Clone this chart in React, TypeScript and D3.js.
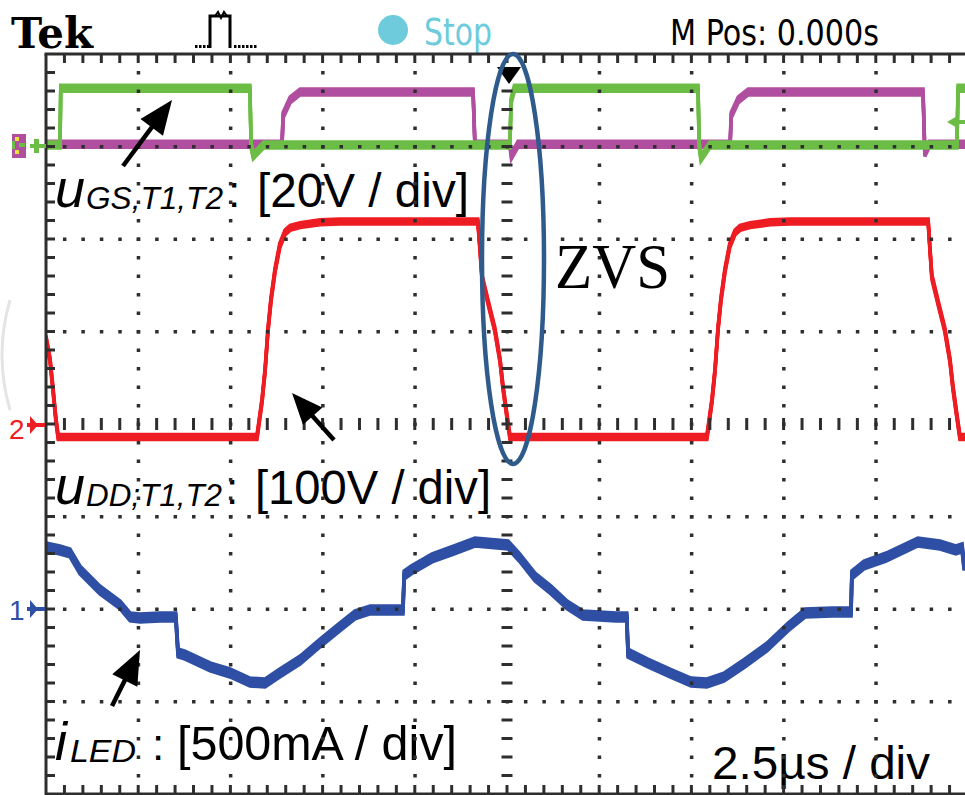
import React from "react";
import * as d3 from "d3";

// time in µs (2.5 µs/div), values in physical units
const gateT1: [number, number][] = [
  [0, 0.3], [0.38, 0.3], [0.4, 12.6], [5.53, 12.6], [5.56, 0.3], [5.62, -2], [5.9, 0.3],
  [12.58, 0.3], [12.61, 9.8], [12.7, 12.6], [17.68, 12.6], [17.71, 0.3], [17.76, -2.5],
  [18.0, 0.3], [24.7, 0.3], [24.73, 12.6], [25, 12.6],
];
const gateT2: [number, number][] = [
  [0, 0.5], [6.4, 0.5], [6.43, 6.8], [6.62, 10.1], [6.89, 11.8], [11.58, 11.8], [11.63, 0.5],
  [12.58, 0.5], [12.62, -2], [12.8, 0.5], [18.55, 0.5], [18.58, 6.8], [18.77, 10.1],
  [19.04, 11.8], [23.78, 11.8], [23.83, -1.5], [23.95, 0.5], [25, 0.5],
];
const drainV: [number, number][] = [
  [0, 93], [0.11, 69], [0.19, 37], [0.27, 4], [0.33, -14], [5.72, -14], [5.75, -6], [5.86, 26],
  [5.94, 58], [6.02, 102], [6.1, 134], [6.21, 166], [6.34, 193], [6.48, 207], [6.62, 212],
  [6.89, 215], [7.43, 218], [7.97, 219], [11.71, 219], [11.77, 188], [11.82, 159], [11.99, 131],
  [12.17, 102], [12.31, 69], [12.39, 40], [12.5, 8], [12.58, -14], [17.92, -14], [17.95, -6],
  [18.06, 26], [18.14, 58], [18.22, 102], [18.3, 134], [18.41, 166], [18.54, 193], [18.68, 207],
  [18.82, 212], [19.09, 215], [19.63, 218], [20.17, 219], [23.92, 219], [23.97, 188], [24.02, 159],
  [24.19, 131], [24.37, 102], [24.51, 69], [24.59, 40], [24.7, 8], [24.78, -14], [25, -14],
];
const iLED: [number, number][] = [
  [0, 335], [0.38, 319], [0.65, 303], [0.92, 211], [1.46, 103], [2.01, 22], [2.28, -43],
  [2.55, -49], [3.09, -43], [3.52, -43], [3.58, -238], [3.77, -249], [4.45, -313], [4.99, -346],
  [5.53, -395], [5.94, -400], [6.34, -346], [6.89, -276], [7.43, -184], [7.97, -97], [8.38, -32],
  [8.79, -5], [9.6, -5], [9.68, -5], [9.71, 184], [9.9, 211], [10.47, 276], [11.06, 319],
  [11.63, 362], [11.93, 357], [12.53, 346], [12.83, 281], [13.26, 173], [13.69, 103], [14.13, 22],
  [14.56, -32], [15.46, -43], [15.75, -43], [15.78, -238], [16.32, -292], [16.92, -346],
  [17.49, -395], [17.92, -400], [18.38, -368], [18.95, -292], [19.55, -205], [20.12, -97],
  [20.58, -22], [21.31, -16], [21.83, -16], [21.85, 184], [22.18, 238], [22.78, 281], [23.64, 362],
  [24.24, 346], [24.67, 319], [24.84, 330], [24.89, 238], [25, 238],
];

const labels = {
  gs: ["u", "GS,T1,T2", ":", "[20V / div]"],
  dd: ["u", "DD;T1,T2", ":", "[100V / div]"],
  led: ["i", "LED", ":", "[500mA / div]"],
};
const timeBase = "2.5µs / div";

const LEFT = 46, TOP = 54, DIVX = 92.2, DIVY = 92.5;
const RIGHT = LEFT + 10 * DIVX, BOTTOM = TOP + 8 * DIVY;

const x = d3.scaleLinear().domain([0, 25]).range([LEFT, RIGHT]);
const y = d3.scaleLinear().domain([-4, 4]).range([BOTTOM, TOP]);

const GRID = "#2e2e2e";
const GREEN = "#6cbd45", MAGENTA = "#b04ea0", RED = "#ee1c23", BLUE = "#2f4fa5";

function trace(data: [number, number][], offDiv: number, perDiv: number) {
  return d3.line<[number, number]>()
    .x((d) => x(d[0]))
    .y((d) => y(offDiv + d[1] / perDiv))(data) as string;
}

function Arrow({ tail, tip, L, Wd }: { tail: number[]; tip: number[]; L: number; Wd: number }) {
  const dx = tip[0] - tail[0], dy = tip[1] - tail[1];
  const len = Math.hypot(dx, dy);
  const ux = dx / len, uy = dy / len;
  const bx = tip[0] - ux * L, by = tip[1] - uy * L;
  const nx = -uy, ny = ux;
  const pts = [
    [tip[0], tip[1]],
    [bx + (nx * Wd) / 2, by + (ny * Wd) / 2],
    [bx - (nx * Wd) / 2, by - (ny * Wd) / 2],
  ];
  return (
    <g>
      <line x1={tail[0]} y1={tail[1]} x2={bx + ux * 4} y2={by + uy * 4} stroke="#000" strokeWidth={4.5} />
      <polygon points={pts.map((p) => p.join(",")).join(" ")} fill="#000" />
    </g>
  );
}

function Trace({ d, color, offs, sw }: { d: string; color: string; offs: number[]; sw: number }) {
  return (
    <g>
      {offs.map((o, i) => (
        <path key={i} d={d} transform={`translate(0,${o})`} fill="none" stroke={color} strokeWidth={sw} strokeLinejoin="miter" />
      ))}
    </g>
  );
}

function Label({ parts, yb, x0, subX, subLen, colonX, brX, brLen, italicSize }: any) {
  const f = "'Liberation Sans', Arial, sans-serif";
  return (
    <g fontFamily={f} fill="#000">
      <text x={x0} y={yb} fontSize={italicSize} fontStyle="italic">{parts[0]}</text>
      <text x={subX} y={yb + 2} fontSize={31} fontStyle="italic" textLength={subLen} lengthAdjust="spacingAndGlyphs">{parts[1]}</text>
      <text x={colonX} y={yb} fontSize={44}>{parts[2]}</text>
      <text x={brX} y={yb} fontSize={48} textLength={brLen} lengthAdjust="spacingAndGlyphs">{parts[3]}</text>
    </g>
  );
}

export default function App() {
  const minorX = d3.range(1, 50).map((k) => LEFT + (k * DIVX) / 5);
  const minorY = d3.range(1, 40).map((k) => TOP + (k * DIVY) / 5);
  const rows = [1, 2, 3, 5, 6, 7].map((j) => TOP + j * DIVY);
  const cols = [1, 2, 3, 4, 6, 7, 8, 9].map((i) => LEFT + i * DIVX);
  const cy = TOP + 4 * DIVY, cx = LEFT + 5 * DIVX;

  const narrow = "'Liberation Sans Narrow', 'DejaVu Sans Condensed', 'Liberation Sans', sans-serif";

  return (
    <svg width={965} height={795} style={{ position: "absolute", left: 0, top: 0, background: "#fff" }}>
      <rect width={965} height={795} fill="#fff" />
      {/* header */}
      <text x={11} y={48} fontFamily="'DejaVu Serif', serif" fontWeight="bold" fontSize={42} textLength={82} lengthAdjust="spacingAndGlyphs">Tek</text>
      <g fill="#000">
        {[195, 199, 203, 207].map((v) => <rect key={v} x={v} y={45} width={2.5} height={3} />)}
        {[234, 238, 242, 246, 250, 254].map((v) => <rect key={v} x={v} y={45} width={2.5} height={3} />)}
      </g>
      <path d="M210,48 V16 H230 V48" fill="none" stroke="#000" strokeWidth={3} />
      <path d="M215,16 L218,12 L221,18 L224,12 L227,16" fill="none" stroke="#000" strokeWidth={2} />
      <circle cx={393} cy={30} r={15} fill="#6dcbdc" />
      <text x={424} y={45} fontFamily={narrow} fontSize={37} fill="#6dcbdc" textLength={68} lengthAdjust="spacingAndGlyphs">Stop</text>
      <text x={670} y={45} fontFamily={narrow} fontSize={35} fill="#000" textLength={209} lengthAdjust="spacingAndGlyphs">M Pos: 0.000s</text>

      {/* faint arc at left edge */}
      <path d="M10,300 Q-6,355 10,410" fill="none" stroke="#e4e4e4" strokeWidth={3} />

      {/* traces */}
      <defs>
        <clipPath id="plot">
          <rect x={LEFT} y={TOP} width={RIGHT - LEFT} height={BOTTOM - TOP} />
        </clipPath>
      </defs>
      <g clipPath="url(#plot)">
        <Trace d={trace(gateT2, 3, 20)} color={MAGENTA} offs={[-3, -1, 1, 3]} sw={3.5} />
        <Trace d={trace(gateT1, 3, 20)} color={GREEN} offs={[-3, -1, 1, 3]} sw={3.5} />
        <Trace d={trace(drainV, 0, 100)} color={RED} offs={[-2.5, -0.8, 0.8, 2.5]} sw={3.5} />
        <Trace d={trace(iLED, -2, 500)} color={BLUE} offs={[-4, -2, 0, 2, 4]} sw={3.5} />
      </g>

      {/* labels */}
      <Label parts={labels.gs} yb={207} x0={55} italicSize={54} subX={86} subLen={137} colonX={228} brX={257} brLen={212} />
      <Label parts={labels.dd} yb={504} x0={55} italicSize={54} subX={86} subLen={136} colonX={226} brX={255} brLen={236} />
      <Label parts={labels.led} yb={760} x0={55} italicSize={54} subX={70} subLen={66} colonX={152} brX={177} brLen={280} />
      <text x={555} y={288} fontFamily="'Liberation Serif', 'Times New Roman', serif" fontSize={64} textLength={115} lengthAdjust="spacingAndGlyphs">ZVS</text>
      <text x={712} y={779} fontFamily="'Liberation Sans', Arial, sans-serif" fontSize={46} textLength={218} lengthAdjust="spacingAndGlyphs">{timeBase}</text>

      {/* graticule */}
      <g fill={GRID}>
        {rows.map((ry) => minorX.map((mx) => <rect key={`r${ry}-${mx}`} x={mx - 1.5} y={ry - 1.5} width={3.5} height={3.5} />))}
        {cols.map((cc) => minorY.map((my) => <rect key={`c${cc}-${my}`} x={cc - 1.5} y={my - 1.5} width={3.5} height={3.5} />))}
        {minorX.map((mx) => <rect key={`cr${mx}`} x={mx - 1.5} y={cy - 6} width={3} height={12} />)}
        {minorY.map((my) => <rect key={`cc${my}`} x={cx - 5.5} y={my - 1.5} width={11} height={3} />)}
      </g>
      <g stroke={GRID} strokeWidth={3}>
        <line x1={LEFT - 1.5} y1={TOP} x2={RIGHT} y2={TOP} />
        <line x1={LEFT} y1={TOP} x2={LEFT} y2={BOTTOM + 2} />
        <line x1={LEFT} y1={BOTTOM} x2={RIGHT} y2={BOTTOM} />
        {minorX.map((mx) => <line key={`t${mx}`} x1={mx} y1={TOP} x2={mx} y2={TOP + 9} />)}
        {minorX.map((mx) => <line key={`b${mx}`} x1={mx} y1={BOTTOM} x2={mx} y2={BOTTOM - 9} />)}
        {minorY.map((my) => <line key={`l${my}`} x1={LEFT} y1={my} x2={LEFT + 9} y2={my} />)}
      </g>

      {/* channel markers */}
      <g>
        <rect x={12} y={134} width={14} height={24} fill={MAGENTA} />
        <rect x={15} y={137} width={4} height={4} fill="#e8e23a" />
        <rect x={19} y={143} width={6} height={4} fill={GREEN} />
        <rect x={15} y={150} width={4} height={4} fill="#e8e23a" />
        <rect x={12} y={141} width={3} height={8} fill={GREEN} />
        <rect x={30} y={144} width={16} height={4} fill={GREEN} />
        <rect x={34} y={139} width={5} height={14} fill={GREEN} />
      </g>
      <g fill={RED}>
        <text x={9} y={439} fontFamily="'Liberation Sans', Arial, sans-serif" fontSize={28} fill={RED}>2</text>
        <rect x={27} y={423} width={18} height={4} />
        <polygon points={`30,416 38,425 30,434`} />
      </g>
      <g fill={BLUE}>
        <text x={9} y={620} fontFamily="'Liberation Sans', Arial, sans-serif" fontSize={28} fill={BLUE}>1</text>
        <rect x={27} y={607} width={18} height={4} />
        <polygon points={`30,600 38,609 30,618`} />
      </g>
      <polygon points="947,122 959,115 959,129" fill={GREEN} />
      <rect x={955} y={120} width={10} height={4} fill={GREEN} />
      <polygon points="497,67 521,67 509,84" fill="#000" />

      {/* annotations */}
      <Arrow tail={[123, 166]} tip={[172, 100]} L={34} Wd={28} />
      <Arrow tail={[334, 440]} tip={[292, 393]} L={31} Wd={26} />
      <Arrow tail={[112, 706]} tip={[140, 650]} L={34} Wd={28} />
      <ellipse cx={513} cy={259} rx={31} ry={205} fill="none" stroke="#2f5b8c" strokeWidth={4.5} />
    </svg>
  );
}
